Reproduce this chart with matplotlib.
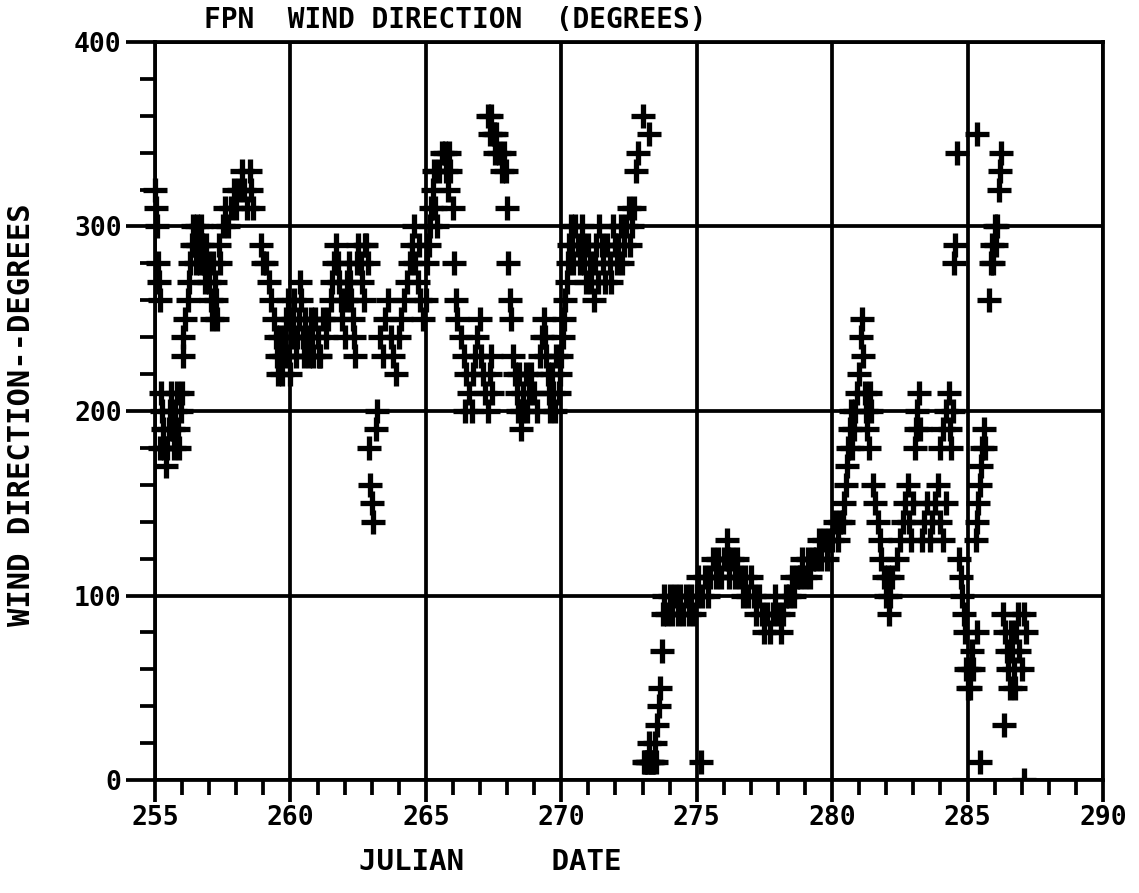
import matplotlib
matplotlib.use('Agg')
import matplotlib.pyplot as plt
from matplotlib.ticker import MultipleLocator

# ---------------- data (julian day, wind direction in degrees) ----------------
block_255_260 = [
    (255.0, 320), (255.04, 310), (255.08, 300), (255.1, 280), (255.13, 270), (255.17, 260),
    (255.2, 180), (255.22, 210), (255.25, 200), (255.3, 190), (255.35, 180), (255.4, 170),
    (255.45, 180), (255.5, 190), (255.55, 200), (255.6, 210), (255.65, 190), (255.7, 180),
    (255.75, 200), (255.8, 210), (255.85, 190), (255.9, 180), (255.95, 200), (256.0, 210),
    (256.02, 230), (256.05, 240), (256.1, 250), (256.2, 260), (256.25, 270), (256.3, 280),
    (256.35, 290), (256.4, 300), (256.45, 290), (256.5, 280), (256.55, 300), (256.6, 290),
    (256.65, 280), (256.7, 300), (256.75, 290), (256.8, 280), (256.85, 270),
    (256.9, 290), (256.95, 280), (257.0, 270), (257.05, 260), (257.1, 250), (257.15, 280),
    (257.2, 270), (257.25, 260), (257.3, 250), (257.35, 290), (257.4, 280),
    (257.5, 300), (257.6, 310), (257.7, 300), (257.8, 310), (257.9, 320), (258.0, 310),
    (258.1, 320), (258.2, 330), (258.3, 320), (258.4, 310), (258.5, 330), (258.55, 320),
    (258.6, 310),
    (258.9, 290), (259.0, 280), (259.1, 280), (259.2, 270), (259.3, 260), (259.4, 250),
    (259.45, 240), (259.5, 230), (259.55, 220), (259.6, 240), (259.65, 230), (259.7, 220),
    (259.75, 230), (259.8, 240), (259.85, 250), (259.9, 260), (259.95, 230),
]

block_260_265 = [
    (260.0, 220), (260.05, 240), (260.1, 250), (260.15, 260), (260.2, 230), (260.25, 240),
    (260.3, 250), (260.35, 270), (260.4, 260), (260.45, 240), (260.5, 230), (260.55, 250),
    (260.6, 240), (260.7, 230), (260.75, 250), (260.8, 240), (260.85, 230), (260.9, 250),
    (261.0, 240), (261.05, 230), (261.1, 230), (261.2, 250), (261.3, 240), (261.4, 250),
    (261.5, 260), (261.55, 270), (261.6, 280), (261.7, 290), (261.75, 280), (261.8, 270),
    (261.85, 260), (261.9, 250), (262.0, 240), (262.05, 260), (262.1, 270), (262.15, 280),
    (262.2, 270), (262.25, 260), (262.3, 250), (262.35, 240), (262.4, 230), (262.45, 280),
    (262.5, 290), (262.6, 280), (262.65, 270), (262.7, 260), (262.75, 290), (262.8, 290),
    (262.85, 280),
    (262.9, 180), (262.95, 160), (263.0, 150), (263.05, 140), (263.15, 190), (263.2, 200),
    (263.3, 240), (263.4, 230), (263.5, 250), (263.6, 260), (263.7, 240), (263.8, 230),
    (263.9, 220), (264.0, 240), (264.1, 250),
    (264.2, 260), (264.3, 270), (264.4, 280), (264.5, 290), (264.55, 300), (264.6, 280),
    (264.7, 270), (264.75, 290), (264.8, 260), (264.9, 250), (265.0, 260),
]

block_265_270 = [
    (265.05, 280), (265.1, 290), (265.15, 300), (265.2, 310), (265.25, 320), (265.3, 330),
    (265.35, 310), (265.4, 300),
    (265.5, 330), (265.6, 340), (265.7, 340), (265.75, 330), (265.8, 320), (265.85, 340),
    (265.9, 330), (266.0, 310),
    (266.05, 280), (266.1, 260), (266.15, 250),
    (266.3, 240), (266.4, 230), (266.45, 200), (266.5, 220), (266.6, 210), (266.7, 200),
    (266.75, 220), (266.8, 230), (266.9, 240), (267.0, 250), (267.05, 230), (267.1, 220),
    (267.2, 210), (267.3, 200), (267.35, 220), (267.4, 230), (267.45, 210),
    (267.3, 360), (267.35, 350), (267.4, 360), (267.5, 350), (267.55, 340), (267.6, 350),
    (267.7, 340), (267.8, 330), (267.9, 340), (267.95, 330), (268.0, 310),
    (268.05, 280), (268.1, 260), (268.15, 250),
    (268.2, 230), (268.3, 220), (268.35, 210), (268.4, 200), (268.45, 220), (268.5, 190),
    (268.55, 200), (268.6, 210), (268.7, 220), (268.75, 200), (268.8, 210), (268.9, 220),
    (269.0, 210), (269.1, 200), (269.2, 230), (269.3, 240), (269.35, 250), (269.4, 240),
    (269.45, 230), (269.5, 220), (269.55, 210), (269.6, 200), (269.65, 220), (269.7, 210),
    (269.75, 200), (269.8, 230),
    (269.9, 210), (269.95, 220), (270.0, 230), (270.05, 240), (270.1, 250), (270.15, 260),
    (270.2, 270), (270.25, 280), (270.3, 290),
]

block_270_273 = [
    (270.35, 300), (270.4, 290), (270.45, 280), (270.5, 300), (270.6, 290), (270.7, 280),
    (270.75, 300), (270.8, 290), (270.85, 280), (270.9, 270), (271.0, 290), (271.05, 280),
    (271.1, 270), (271.2, 260), (271.25, 280), (271.3, 290), (271.35, 270), (271.4, 300),
    (271.5, 290), (271.55, 280), (271.6, 270), (271.7, 290), (271.8, 280), (271.85, 270),
    (271.9, 300), (272.0, 290), (272.05, 280), (272.1, 290), (272.2, 300), (272.25, 280),
    (272.3, 290), (272.4, 300), (272.5, 310), (272.55, 290), (272.6, 300), (272.7, 310),
    (272.75, 330), (272.85, 340), (273.0, 360), (273.25, 350),
]

block_273_280 = [
    (273.05, 10), (273.1, 10), (273.15, 10), (273.2, 10), (273.25, 20), (273.3, 10),
    (273.35, 10), (273.4, 10), (273.45, 20), (273.5, 10),
    (273.55, 30), (273.6, 40), (273.65, 50), (273.7, 70), (273.75, 90),
    (273.8, 100), (273.9, 90), (274.0, 100), (274.1, 90), (274.2, 100), (274.3, 90),
    (274.4, 100), (274.5, 90), (274.6, 100), (274.7, 90), (274.8, 100), (274.9, 90),
    (275.0, 100), (275.05, 110),
    (275.15, 10),
    (275.2, 100), (275.3, 110), (275.4, 100), (275.5, 110), (275.6, 120), (275.7, 110),
    (275.8, 120), (275.9, 110), (276.0, 120), (276.1, 130), (276.15, 120), (276.2, 110),
    (276.3, 120), (276.4, 110), (276.5, 120), (276.6, 110), (276.7, 100), (276.8, 110),
    (276.9, 100), (277.0, 110),
    (277.1, 100), (277.2, 90), (277.3, 100), (277.4, 90), (277.5, 80), (277.6, 90),
    (277.7, 80), (277.8, 90), (277.9, 100), (278.0, 90), (278.1, 80), (278.2, 90),
    (278.3, 100),
    (278.4, 100), (278.5, 110), (278.6, 100), (278.7, 110), (278.8, 110), (278.9, 120),
    (279.0, 110), (279.1, 120), (279.2, 110), (279.3, 120), (279.4, 120), (279.5, 130),
    (279.6, 120), (279.7, 130), (279.8, 120), (279.9, 130), (280.0, 130), (280.1, 140),
    (280.2, 130), (280.3, 140),
]

block_280_288 = [
    (280.4, 140), (280.45, 150), (280.5, 160), (280.55, 170), (280.6, 180), (280.65, 190),
    (280.7, 200), (280.75, 180), (280.8, 190), (280.85, 200), (280.9, 210), (281.0, 220),
    (281.05, 240), (281.1, 250), (281.15, 230), (281.2, 210), (281.25, 200), (281.3, 190),
    (281.35, 180), (281.4, 210), (281.45, 200),
    (281.5, 160), (281.6, 150), (281.7, 140), (281.75, 130), (281.8, 120), (281.9, 110),
    (282.0, 100), (282.05, 110), (282.1, 90), (282.15, 100), (282.2, 110),
    (282.4, 120), (282.5, 130), (282.6, 140), (282.7, 150), (282.8, 160), (282.85, 140),
    (282.9, 130), (283.0, 150),
    (283.05, 180), (283.1, 190), (283.15, 200), (283.2, 210), (283.25, 190),
    (283.3, 130), (283.4, 140), (283.5, 150), (283.6, 130), (283.7, 140), (283.8, 150),
    (283.9, 160), (284.0, 140), (284.1, 130), (284.2, 150),
    (284.0, 180), (284.1, 190), (284.2, 200), (284.3, 210), (284.35, 190), (284.4, 180),
    (284.45, 200),
    (284.5, 280), (284.55, 290), (284.6, 340),
    (284.7, 120), (284.75, 110), (284.8, 100), (284.85, 90), (284.9, 80), (284.95, 60),
    (285.0, 50), (285.05, 60), (285.1, 50), (285.15, 70), (285.2, 60),
    (285.3, 130), (285.35, 140), (285.4, 150), (285.45, 160), (285.5, 170), (285.55, 180),
    (285.6, 190), (285.65, 180),
    (285.35, 80), (285.45, 10), (285.35, 350),
    (285.8, 260), (285.85, 280), (285.9, 290), (285.95, 280), (286.0, 300), (286.05, 290),
    (286.1, 300), (286.15, 320), (286.2, 330), (286.25, 340),
    (286.3, 90), (286.35, 30), (286.4, 80), (286.45, 70), (286.5, 60), (286.55, 50),
    (286.6, 80), (286.65, 70), (286.7, 60), (286.75, 50), (286.8, 80), (286.85, 90),
    (286.9, 70), (287.0, 60), (287.1, 90), (287.15, 80),
]

# points sitting on the zero line (drawn clipped to the plot area)
block_on_axis = [(287.1, 0)]

x_ticks = [255, 260, 265, 270, 275, 280, 285, 290]
y_ticks = [0, 100, 200, 300, 400]
title_text = 'FPN  WIND DIRECTION  (DEGREES)'
y_label = 'WIND DIRECTION--DEGREES'
x_label = 'JULIAN     DATE'

# ---------------- figure ----------------
W, H = 1139, 893
fig = plt.figure(figsize=(W / 100, H / 100), dpi=100)
ax = fig.add_axes([155 / W, 1 - 780 / H, (1103 - 155) / W, (780 - 42) / H])
ax.set_xlim(255, 290)
ax.set_ylim(0, 400)

FONT = 'DejaVu Sans Mono'
LW = 2.7
MS = 17.5
MEW = 3.8

all_blocks = block_255_260 + block_260_265 + block_265_270 + block_270_273 + block_273_280 + block_280_288
days = [p[0] for p in all_blocks]
dirs = [p[1] for p in all_blocks]
ax.plot(days, dirs, linestyle='none', marker='+', markersize=MS,
        markeredgewidth=MEW, color='black', clip_on=False, zorder=3)
ax.plot([p[0] for p in block_on_axis], [p[1] for p in block_on_axis], linestyle='none',
        marker='+', markersize=MS, markeredgewidth=MEW, color='black', clip_on=True, zorder=3)

ax.set_xticks(x_ticks)
ax.set_yticks(y_ticks)
ax.xaxis.set_minor_locator(MultipleLocator(1))
ax.yaxis.set_minor_locator(MultipleLocator(20))
ax.grid(True, which='major', color='black', linewidth=LW)
ax.set_axisbelow(True)
for s in ax.spines.values():
    s.set_linewidth(LW)
    s.set_color('black')

ax.tick_params(axis='x', which='major', direction='out', length=16, width=LW, pad=2)
ax.tick_params(axis='x', which='minor', direction='out', length=11, width=LW)
ax.tick_params(axis='y', which='major', direction='out', length=21, width=LW, pad=3)
ax.tick_params(axis='y', which='minor', direction='out', length=11, width=LW)

ax.set_xticklabels([str(t) for t in x_ticks], fontfamily=FONT, fontweight='bold', fontsize=19)
ax.set_yticklabels([str(t) for t in y_ticks], fontfamily=FONT, fontweight='bold', fontsize=19)

fig.text(455 / W, 1 - 20 / H, title_text, ha='center', va='center',
         fontfamily=FONT, fontweight='bold', fontsize=20)
fig.text(22 / W, 1 - 415 / H, y_label, ha='center', va='center', rotation=90,
         fontfamily=FONT, fontweight='bold', fontsize=22)
fig.text(490 / W, 1 - 862 / H, x_label, ha='center', va='center',
         fontfamily=FONT, fontweight='bold', fontsize=21)

fig.savefig('out.png', dpi=100, facecolor='white')
